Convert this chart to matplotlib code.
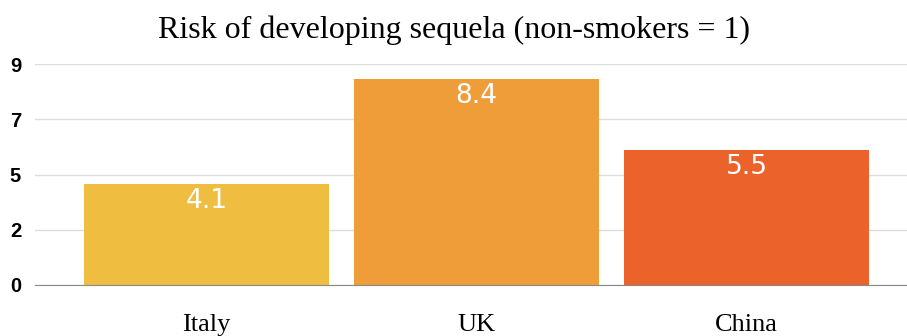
import matplotlib
matplotlib.use("Agg")
import matplotlib.pyplot as plt

countries = ["Italy", "UK", "China"]
risk = [4.1, 8.4, 5.5]
bar_colors = ["#EFBD40", "#EF9D38", "#EC622B"]
y_ticks = [0, 2.25, 4.5, 6.75, 9]
y_tick_labels = ["0", "2", "5", "7", "9"]

fig = plt.figure(figsize=(9.07, 3.36), dpi=100)
ax = fig.add_axes([35 / 907, 51 / 336, 872 / 907, 221 / 336])

x = range(len(countries))
bars = ax.bar(x, risk, width=0.91, color=bar_colors, zorder=3)

for b, v in zip(bars, risk):
    ax.annotate(f"{v}", (b.get_x() + b.get_width() / 2, v),
                xytext=(0, -3), textcoords="offset points",
                ha="center", va="top", color="white", fontsize=19,
                family="DejaVu Sans", fontweight="normal", zorder=4)

ax.set_xlim(-0.635, 2.594)
ax.set_ylim(0, 9)
ax.set_yticks(y_ticks)
ax.set_yticklabels(y_tick_labels, fontsize=14.5, fontweight="bold",
                   family="Liberation Sans")
ax.set_xticks(list(x))
ax.set_xticklabels(countries, fontsize=19, family="Liberation Serif")
ax.tick_params(axis="y", length=0, pad=10)
ax.tick_params(axis="x", length=0, pad=21)

ax.grid(axis="y", color="#DDDDDD", lw=1, zorder=0)
for s in ["top", "right", "left"]:
    ax.spines[s].set_visible(False)
ax.spines["bottom"].set_color("#888888")
ax.spines["bottom"].set_zorder(5)

fig.suptitle("Risk of developing sequela (non-smokers = 1)", y=0.955,
             fontsize=23, family="Liberation Serif")

fig.savefig("out.png", dpi=100)
